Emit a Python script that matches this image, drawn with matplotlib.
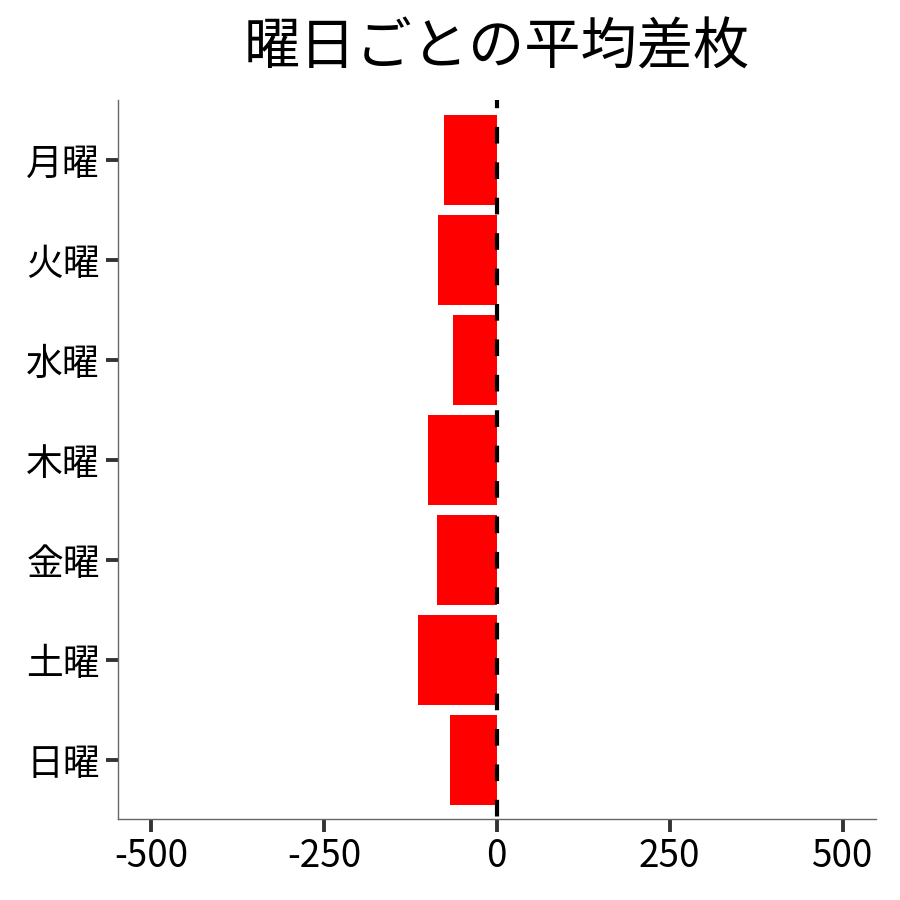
import matplotlib
matplotlib.use("Agg")
import matplotlib.pyplot as plt

plt.rcParams['font.family'] = ['Noto Sans CJK JP', 'DejaVu Sans']

days = ["月曜", "火曜", "水曜", "木曜", "金曜", "土曜", "日曜"]
values = [-77, -85, -64, -100, -87, -114, -67]
xticks = [-500, -250, 0, 250, 500]

fig = plt.figure(figsize=(9, 9), dpi=100)
ax = fig.add_axes([0.131, 0.09, 0.842, 0.799])

pos = list(range(len(days)))[::-1]
ax.barh(pos, values, height=0.9, color="#FF0000", zorder=2)
ax.axvline(0, color="black", lw=3.0, linestyle=(7.9, (4.0, 4.5)), zorder=3)

ax.set_xlim(-548, 548)
ax.set_ylim(-0.59, 6.6)
ax.set_yticks(pos)
ax.set_yticklabels(days)
ax.set_xticks(xticks)
ax.set_xticklabels([str(v) for v in xticks])
ax.tick_params(axis='both', labelsize=26.5, colors="#333333", length=9, width=2.8, labelcolor="black", pad=4)

for s in ["top", "right"]:
    ax.spines[s].set_visible(False)
for s in ["left", "bottom"]:
    ax.spines[s].set_color("#666666")
    ax.spines[s].set_linewidth(1.0)

fig.text(0.552, 0.946, "曜日ごとの平均差枚", ha="center", va="center", fontsize=40.5)

fig.savefig("out.png", dpi=100, facecolor="white")
